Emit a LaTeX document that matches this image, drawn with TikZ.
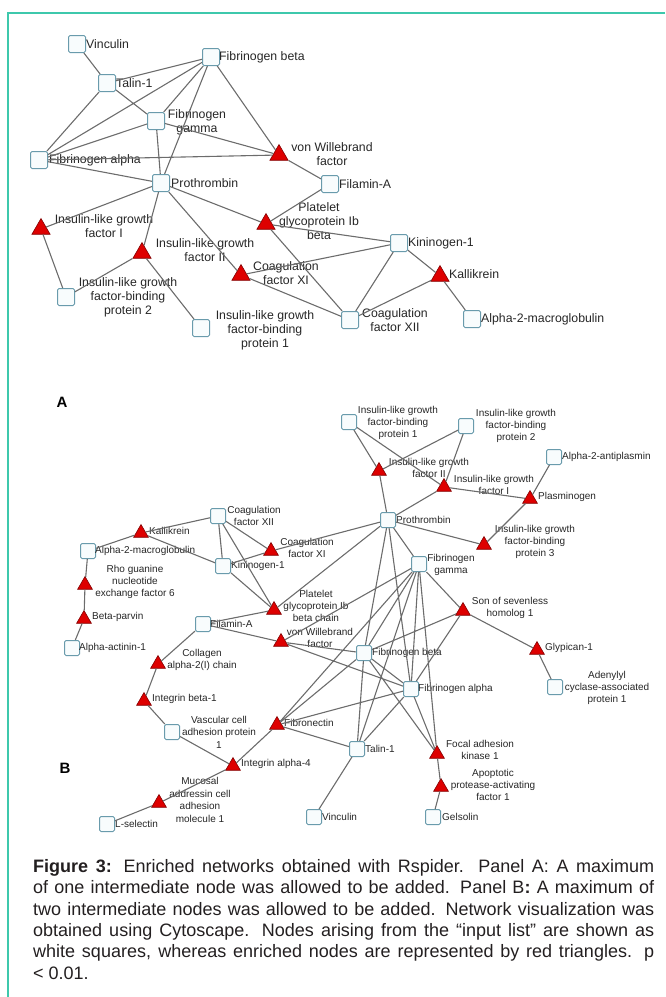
\documentclass[tikz,border=0pt]{standalone}
\usepackage{fontspec}
\setmainfont{Liberation Sans}
\usetikzlibrary{shapes.geometric}
\definecolor{edgegray}{RGB}{108,108,108}
\definecolor{sqborder}{RGB}{105,155,172}
\definecolor{sqfill}{RGB}{248,252,253}
\definecolor{trired}{RGB}{222,0,0}
\definecolor{tridark}{RGB}{130,0,0}
\definecolor{framecol}{RGB}{62,200,172}
\definecolor{captext}{RGB}{35,31,32}
\tikzstyle{sqA}=[draw=sqborder,fill=sqfill,rectangle,rounded corners=1.5pt,minimum size=17pt,inner sep=0pt,line width=1pt]
\tikzstyle{sqB}=[sqA,minimum size=15pt]
\tikzstyle{triA}=[draw=tridark,fill=trired,regular polygon,regular polygon sides=3,minimum size=21pt,inner sep=0pt,line width=0.6pt]
\tikzstyle{triB}=[triA,minimum size=17pt]
\tikzstyle{labA}=[font=\fontsize{12.3}{14}\selectfont,text=black!85,inner sep=0pt,align=center]
\tikzstyle{labB}=[font=\fontsize{10}{12.4}\selectfont,text=black!85,inner sep=0pt,align=center]
\tikzstyle{link}=[draw=edgegray,line width=1.1pt]

\begin{document}
\begin{tikzpicture}[x=1pt,y=-1pt]
\useasboundingbox (0,0) rectangle (665,997);
\draw[framecol,line width=1.5pt] (665,13) -- (8,13) -- (8,997);

% panel A
\node[sqA] (vinA) at (77,44) {};
\node[sqA] (fbbA) at (211,57) {};
\node[sqA] (talA) at (107,83) {};
\node[sqA] (fbgA) at (156,121) {};
\node[sqA] (fbaA) at (39,160) {};
\node[triA] (vwfA) at (279,155) {};
\node[sqA] (proA) at (161,183) {};
\node[sqA] (flnA) at (330,184) {};
\node[triA] (igf1A) at (41,229) {};
\node[triA] (gpA) at (266,224) {};
\node[triA] (igf2A) at (142,253) {};
\node[sqA] (kngA) at (399,243) {};
\node[triA] (f11A) at (241,275) {};
\node[triA] (klkA) at (440,276) {};
\node[sqA] (bp2A) at (66,297) {};
\node[sqA] (bp1A) at (201,328) {};
\node[sqA] (f12A) at (350,320) {};
\node[sqA] (a2mA) at (472,319) {};

\node[labA,anchor=west] (vinA-t) at (86,44) {Vinculin};
\node[labA,anchor=west] (fbbA-t) at (219,57) {Fibrinogen beta};
\node[labA,anchor=west] (talA-t) at (116,83) {Talin-1};
\node[labA] (fbgA-t) at (197,122) {Fibrinogen\\gamma};
\node[labA,anchor=west] (fbaA-t) at (49,160) {Fibrinogen alpha};
\node[labA] (vwfA-t) at (332,154) {von Willebrand\\factor};
\node[labA,anchor=west] (proA-t) at (171,183) {Prothrombin};
\node[labA,anchor=west] (flnA-t) at (339,184) {Filamin-A};
\node[labA] (igf1A-t) at (104,226) {Insulin-like growth\\factor I};
\node[labA] (gpA-t) at (319,221) {Platelet\\glycoprotein Ib\\beta};
\node[labA] (igf2A-t) at (205,250) {Insulin-like growth\\factor II};
\node[labA,anchor=west] (kngA-t) at (408,243) {Kininogen-1};
\node[labA] (f11A-t) at (286,273) {Coagulation\\factor XI};
\node[labA,anchor=west] (klkA-t) at (449,274) {Kallikrein};
\node[labA] (bp2A-t) at (128,297) {Insulin-like growth\\factor-binding\\protein 2};
\node[labA] (bp1A-t) at (265,330) {Insulin-like growth\\factor-binding\\protein 1};
\node[labA] (f12A-t) at (395,320) {Coagulation\\factor XII};
\node[labA,anchor=west] (a2mA-t) at (481,319) {Alpha-2-macroglobulin};

\draw[link] (vinA) -- (talA) (talA) -- (fbbA) (talA) -- (fbaA) (talA) -- (fbgA)
  (fbbA) -- (fbaA) (fbbA) -- (fbgA) (fbbA) -- (proA) (fbbA) -- (vwfA)
  (fbgA) -- (fbaA) (fbgA) -- (proA) (fbgA) -- (vwfA) (fbaA) -- (vwfA)
  (fbaA) -- (proA) (vwfA) -- (flnA) (flnA) -- (gpA) (proA) -- (igf1A)
  (proA) -- (igf2A) (proA) -- (gpA) (proA) -- (f11A) (igf1A) -- (bp2A)
  (igf2A) -- (bp2A) (igf2A) -- (bp1A) (gpA) -- (kngA) (gpA) -- (f12A)
  (kngA) -- (f11A) (kngA) -- (f12A) (kngA) -- (klkA) (f11A) -- (f12A)
  (f12A) -- (klkA) (klkA) -- (a2mA);

\node[font=\bfseries\fontsize{15}{18}\selectfont] (panA) at (62,402) {A};

% panel B
\node[sqB] (cf12) at (218,516) {};
\node[triB] (klk) at (141,533) {};
\node[sqB] (a2m) at (88,551) {};
\node[triB] (cf11) at (271,551) {};
\node[sqB] (kng) at (223,566) {};
\node[sqB] (bp1) at (349,422) {};
\node[sqB] (bp2) at (466,426) {};
\node[sqB] (a2ap) at (554,457) {};
\node[triB] (igf2) at (379,471) {};
\node[triB] (igf1) at (444,487) {};
\node[triB] (plg) at (530,499) {};
\node[sqB] (pro) at (388,520) {};
\node[triB] (bp3) at (484,545) {};
\node[sqB] (fbg) at (419,564) {};
\node[triB] (rho) at (85,585) {};
\node[triB] (bpar) at (84,619) {};
\node[sqB] (fln) at (203,624) {};
\node[triB] (gp) at (274,610) {};
\node[triB] (vwf) at (281,642) {};
\node[sqB] (act) at (72,648) {};
\node[triB] (col) at (158,664) {};
\node[triB] (itb1) at (144,701) {};
\node[triB] (sos) at (463,611) {};
\node[triB] (gpc) at (537,650) {};
\node[sqB] (fbb) at (364,653) {};
\node[sqB] (fba) at (411,689) {};
\node[sqB] (cap) at (555,687) {};
\node[sqB] (vcam) at (172,732) {};
\node[triB] (fn) at (277,725) {};
\node[triB] (itga4) at (233,766) {};
\node[triB] (madc) at (159,803) {};
\node[sqB] (sel) at (107,824) {};
\node[sqB] (tln) at (357,749) {};
\node[triB] (fak) at (437,754) {};
\node[triB] (apaf) at (441,787) {};
\node[sqB] (vcl) at (314,817) {};
\node[sqB] (gsn) at (433,817) {};

\node[labB] (cf12-t) at (254,516) {Coagulation\\factor XII};
\node[labB,anchor=west] (klk-t) at (149,531) {Kallikrein};
\node[labB,anchor=west] (a2m-t) at (95,551) {Alpha-2-macroglobulin};
\node[labB] (cf11-t) at (307,548) {Coagulation\\factor XI};
\node[labB,anchor=west] (kng-t) at (231,566) {Kininogen-1};
\node[labB] (bp1-t) at (398,423) {Insulin-like growth\\factor-binding\\protein 1};
\node[labB] (bp2-t) at (516,426) {Insulin-like growth\\factor-binding\\protein 2};
\node[labB,anchor=west] (a2ap-t) at (562,457) {Alpha-2-antiplasmin};
\node[labB] (igf2-t) at (429,468) {Insulin-like growth\\factor II};
\node[labB] (igf1-t) at (494,485) {Insulin-like growth\\factor I};
\node[labB,anchor=west] (plg-t) at (538,497) {Plasminogen};
\node[labB,anchor=west] (pro-t) at (396,520) {Prothrombin};
\node[labB] (bp3-t) at (535,542) {Insulin-like growth\\factor-binding\\protein 3};
\node[labB] (fbg-t) at (451,565) {Fibrinogen\\gamma};
\node[labB] (rho-t) at (135,582) {Rho guanine\\nucleotide\\exchange factor 6};
\node[labB,anchor=west] (bpar-t) at (92,617) {Beta-parvin};
\node[labB,anchor=west] (fln-t) at (210,624) {Filamin-A};
\node[labB] (gp-t) at (316,606) {Platelet\\glycoprotein Ib\\beta chain};
\node[labB] (vwf-t) at (320,638) {von Willebrand\\factor};
\node[labB,anchor=west] (act-t) at (79,648) {Alpha-actinin-1};
\node[labB] (col-t) at (202,660) {Collagen\\alpha-2(I) chain};
\node[labB,anchor=west] (itb1-t) at (152,699) {Integrin beta-1};
\node[labB] (sos-t) at (510,608) {Son of sevenless\\homolog 1};
\node[labB,anchor=west] (gpc-t) at (545,648) {Glypican-1};
\node[labB,anchor=west] (fbb-t) at (372,653) {Fibrinogen beta};
\node[labB,anchor=west] (fba-t) at (418,689) {Fibrinogen alpha};
\node[labB] (cap-t) at (607,688) {Adenylyl\\cyclase-associated\\protein 1};
\node[labB] (vcam-t) at (219,732) {Vascular cell\\adhesion protein\\1};
\node[labB,anchor=west] (fn-t) at (284,723) {Fibronectin};
\node[labB,anchor=west] (itga4-t) at (241,764) {Integrin alpha-4};
\node[labB] (madc-t) at (200,800) {Mucosal\\addressin cell\\adhesion\\molecule 1};
\node[labB,anchor=west] (sel-t) at (115,824) {L-selectin};
\node[labB,anchor=west] (tln-t) at (365,749) {Talin-1};
\node[labB] (fak-t) at (480,750) {Focal adhesion\\kinase 1};
\node[labB] (apaf-t) at (493,785) {Apoptotic\\protease-activating\\factor 1};
\node[labB,anchor=west] (vcl-t) at (322,817) {Vinculin};
\node[labB,anchor=west] (gsn-t) at (442,817) {Gelsolin};

\draw[link] (cf12) -- (klk) (klk) -- (a2m) (klk) -- (kng) (cf12) -- (kng)
  (cf12) -- (cf11) (cf12) -- (gp) (cf11) -- (kng) (cf11) -- (pro)
  (kng) -- (gp) (pro) -- (gp) (a2m) -- (rho) (rho) -- (bpar) (bpar) -- (act)
  (fln) -- (gp) (fln) -- (vwf) (fln) -- (col) (col) -- (itb1) (itb1) -- (vcam)
  (vcam) -- (itga4) (itga4) -- (fn) (itga4) -- (madc) (madc) -- (sel)
  (fn) -- (tln) (tln) -- (vcl) (fak) -- (apaf) (apaf) -- (gsn)
  (bp1) -- (igf2) (bp1) -- (igf1) (bp2) -- (igf2) (bp2) -- (igf1)
  (igf2) -- (pro) (igf1) -- (pro) (igf1) -- (plg) (plg) -- (a2ap)
  (plg) -- (bp3) (bp3) -- (pro) (pro) -- (fbg) (pro) -- (fbb) (pro) -- (fba)
  (fbg) -- (fbb) (fbg) -- (fba) (fbg) -- (tln) (fbg) -- (fak) (fbg) -- (sos)
  (fbg) -- (vwf) (fbg) -- (fn) (fbb) -- (fba) (fbb) -- (tln) (fbb) -- (fak)
  (fbb) -- (sos) (fbb) -- (vwf) (fbb) -- (fn) (fba) -- (tln) (fba) -- (fak)
  (fba) -- (sos) (fba) -- (vwf) (fba) -- (fn) (sos) -- (gpc) (gpc) -- (cap);

\node[font=\bfseries\fontsize{15}{18}\selectfont] (panB) at (65,768) {B};

% caption
\node[anchor=north west,text width=621pt,align=justify,inner sep=0pt,text=captext,
  font=\fontsize{18}{21.4}\selectfont] (caption) at (33,859)
  {\textbf{Figure 3:} Enriched networks obtained with Rspider. Panel A: A maximum\linebreak
   of one intermediate node was allowed to be added. Panel B\textbf{:} A maximum of\linebreak
   two intermediate nodes was allowed to be added. Network visualization was\linebreak
   obtained using Cytoscape. Nodes arising from the “input list” are shown as\linebreak
   white squares, whereas enriched nodes are represented by red triangles. p\linebreak
   < 0.01.};
\end{tikzpicture}
\end{document}
